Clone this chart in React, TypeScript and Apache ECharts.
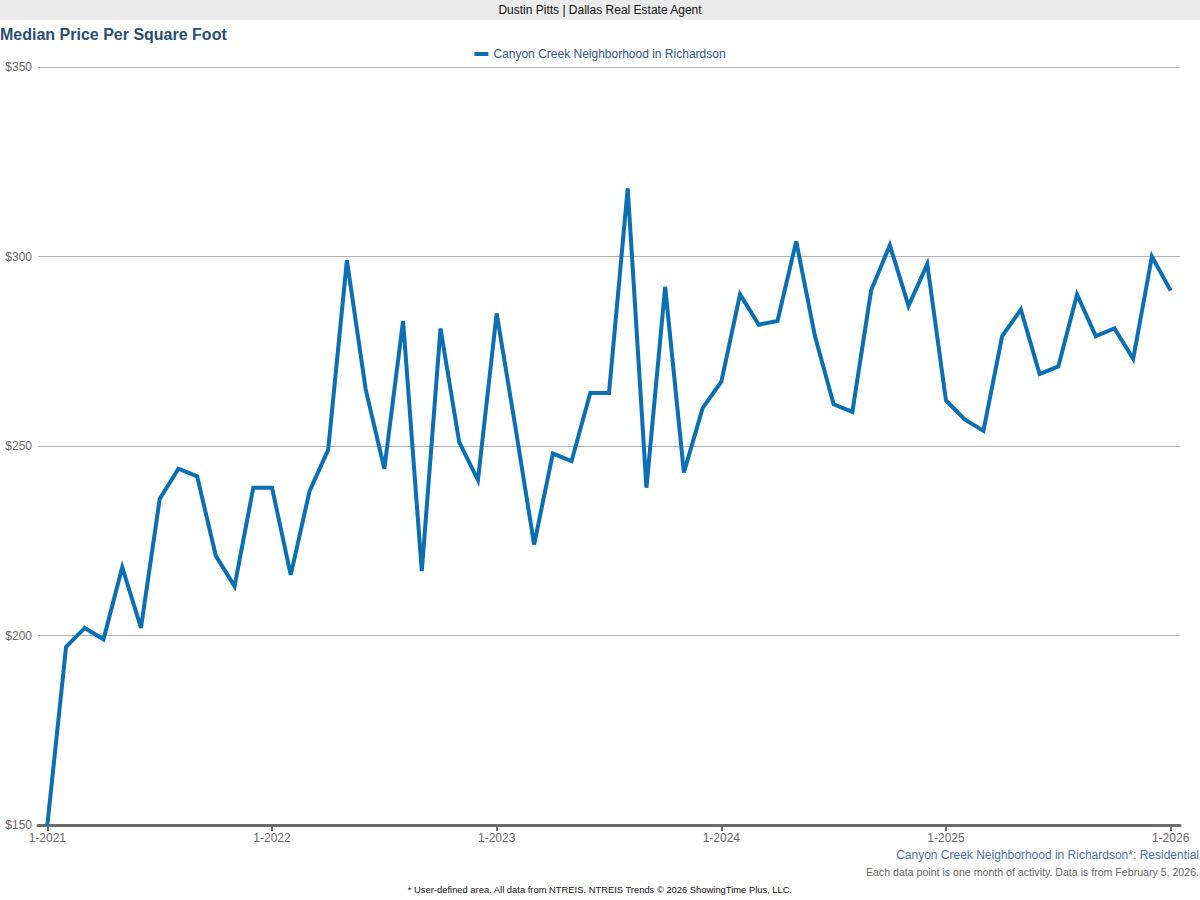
import React, { useEffect, useRef } from 'react';
import * as echarts from 'echarts';

// monthly points, 1-2021 through 1-2026
const years = [2021, 2022, 2023, 2024, 2025, 2026];
const months = Array.from({ length: 61 }, (_, i) => `${(i % 12) + 1}-${years[Math.floor(i / 12)]}`);

const medianPrice = [
  150, 197, 202, 199, 218, 202, 236, 244, 242, 221, 213, 239,
  239, 216, 238, 249, 299, 265, 244, 283, 217, 281, 251, 241,
  285, 255, 224, 248, 246, 264, 264, 318, 239, 292, 243, 260,
  267, 290, 282, 283, 304, 279, 261, 259, 291, 303, 287, 298,
  262, 257, 254, 279, 286, 269, 271, 290, 279, 281, 273, 300,
  291,
];

const yTicks = [150, 200, 250, 300, 350];

const seriesName = 'Canyon Creek Neighborhood in Richardson';
const FONT = '"Liberation Sans", Arial, sans-serif';

const App = () => {
  const chartRef = useRef(null);

  useEffect(() => {
    const myChart = echarts.init(chartRef.current, null, { renderer: 'svg' });

    const option = {
      animation: false,
      backgroundColor: '#fff',
      textStyle: { fontFamily: FONT },
      title: {
        text: 'Median Price Per Square Foot',
        left: 0,
        top: 26,
        padding: 0,
        textStyle: { fontSize: 16, fontWeight: 'bold', color: '#2b4d73', fontFamily: FONT },
      },
      legend: {
        top: 48,
        left: 'center',
        padding: 0,
        icon: 'rect',
        itemWidth: 14,
        itemHeight: 4,
        itemGap: 6,
        textStyle: { fontSize: 12, color: '#2f5680', fontFamily: FONT },
        data: [seriesName],
      },
      grid: { left: 38, right: 20, top: 67, bottom: 75, containLabel: false },
      xAxis: {
        type: 'category',
        data: months,
        boundaryGap: true,
        axisLine: { lineStyle: { color: '#6b6b6b', width: 3 } },
        axisTick: {
          show: true,
          alignWithLabel: true,
          interval: (i: number) => i % 12 === 0,
          length: 6,
          lineStyle: { color: '#6b6b6b', width: 2 },
        },
        axisLabel: {
          interval: (i: number) => i % 12 === 0,
          color: '#666',
          fontSize: 12,
          margin: 7,
          fontFamily: FONT,
        },
        splitLine: { show: false },
      },
      yAxis: {
        type: 'value',
        min: yTicks[0],
        max: yTicks[yTicks.length - 1],
        interval: 50,
        axisLine: { show: false },
        axisTick: { show: false },
        axisLabel: {
          color: '#666',
          fontSize: 12,
          margin: 6,
          fontFamily: FONT,
          formatter: (v: number) => '$' + v,
        },
        splitLine: { lineStyle: { color: '#b3b3b3', width: 1 } },
      },
      series: [
        {
          name: seriesName,
          type: 'line',
          data: medianPrice,
          symbol: 'none',
          itemStyle: { color: '#0b6fb4' },
          lineStyle: { color: '#0b6fb4', width: 4, join: 'miter' },
        },
      ],
      graphic: [
        { type: 'rect', left: 0, top: 0, shape: { width: 1200, height: 20 }, style: { fill: '#ebebeb' }, z: -1 },
        {
          type: 'text', x: 600, y: 10,
          style: { text: 'Dustin Pitts | Dallas Real Estate Agent', fontSize: 12, fill: '#111', align: 'center', verticalAlign: 'middle', fontFamily: FONT },
        },
        {
          type: 'text', x: 1199, y: 855,
          style: { text: 'Canyon Creek Neighborhood in Richardson*: Residential', fontSize: 12, fill: '#4a72a6', align: 'right', verticalAlign: 'middle', fontFamily: FONT },
        },
        {
          type: 'text', x: 1199, y: 872,
          style: { text: 'Each data point is one month of activity. Data is from February 5, 2026.', fontSize: 10.6, fill: '#666', align: 'right', verticalAlign: 'middle', fontFamily: FONT },
        },
        {
          type: 'text', x: 600, y: 889,
          style: { text: '* User-defined area. All data from NTREIS. NTREIS Trends © 2026 ShowingTime Plus, LLC.', fontSize: 9.4, fill: '#111', align: 'center', verticalAlign: 'middle', fontFamily: FONT },
        },
      ],
    };

    myChart.setOption(option);

    return () => {
      myChart.dispose();
    };
  }, []);

  return (
    <div
      ref={chartRef}
      style={{ position: 'absolute', left: 0, top: 0, width: '1200px', height: '900px' }}
    />
  );
};

export default App;
